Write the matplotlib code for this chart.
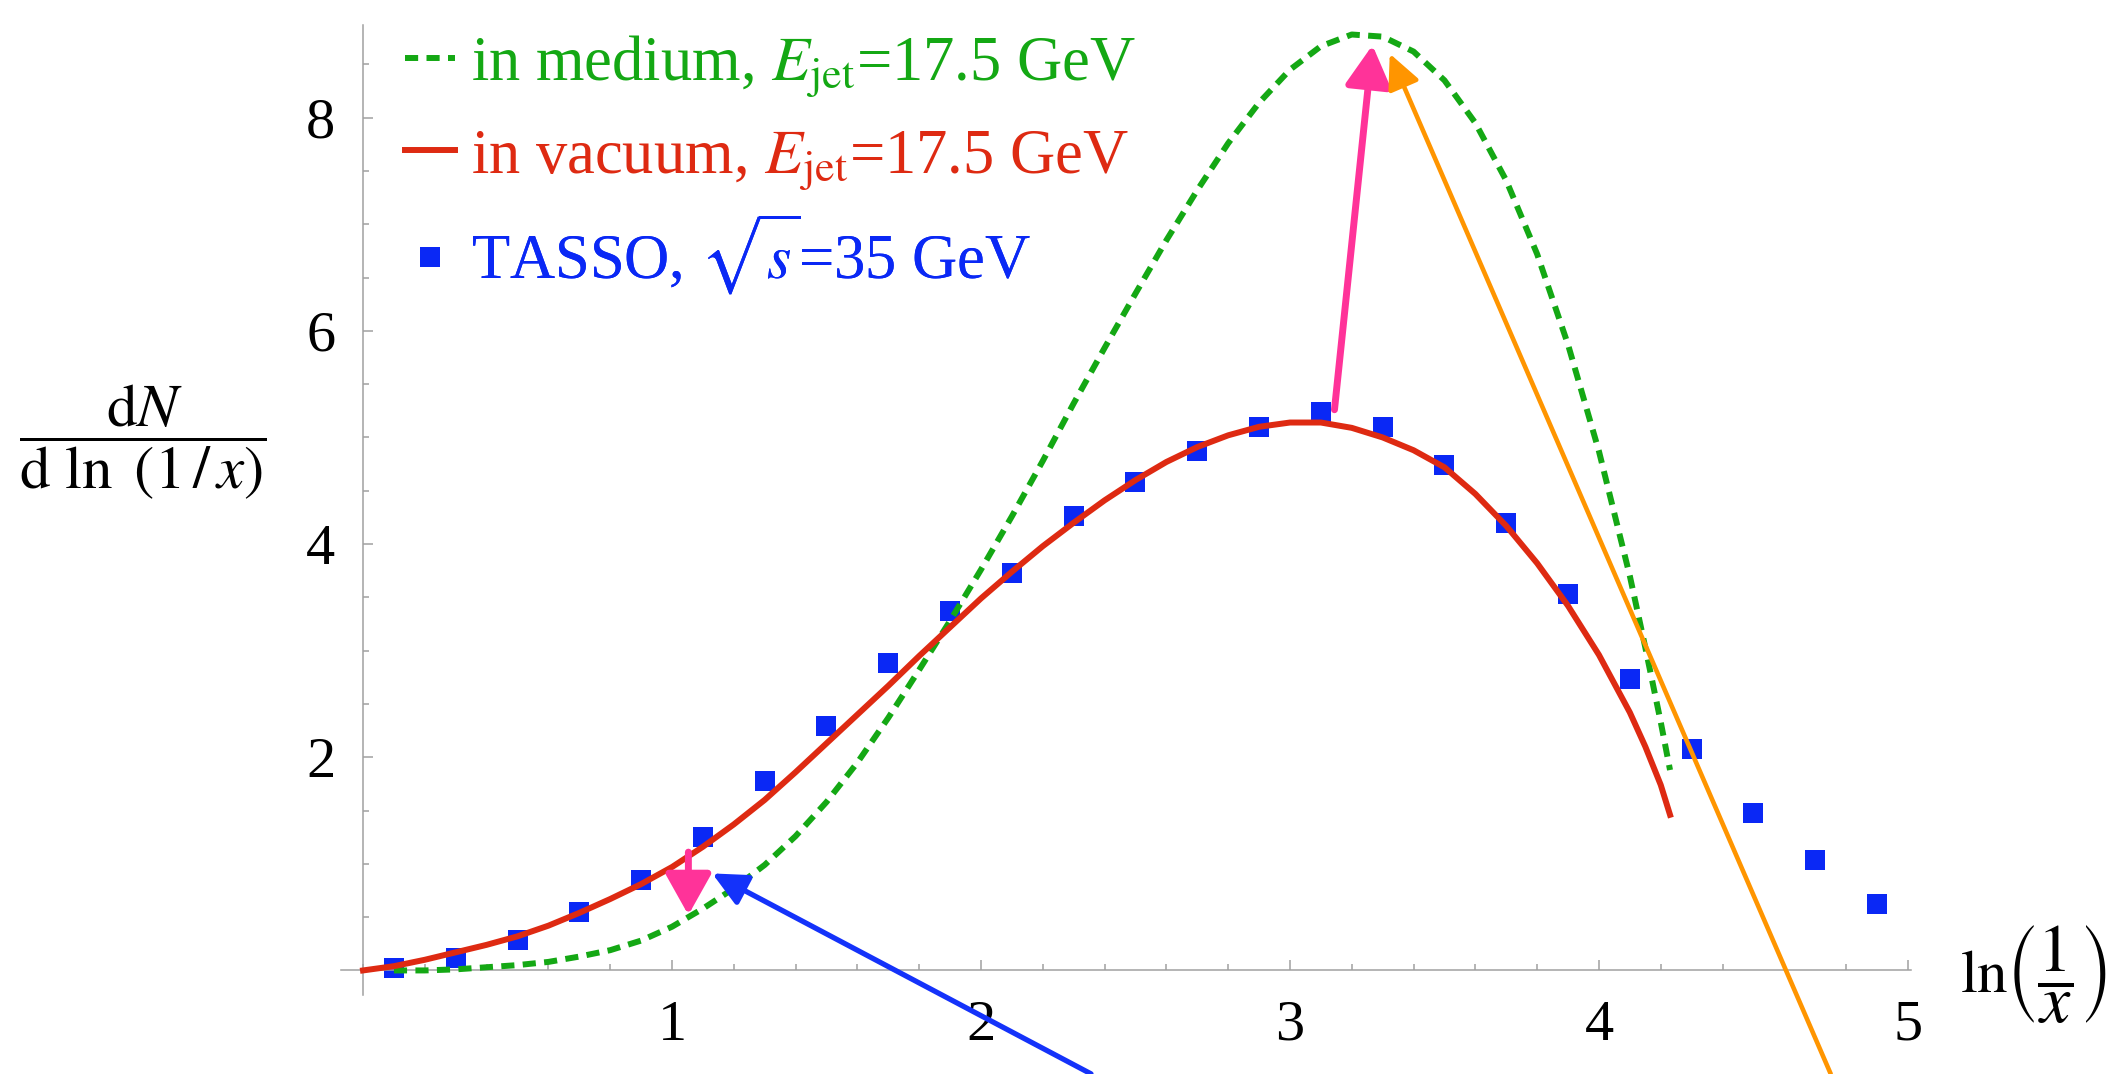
import matplotlib.pyplot as plt
from matplotlib.ticker import FixedLocator, MultipleLocator

plt.rcParams['font.family'] = 'serif'
plt.rcParams['font.serif'] = ['Liberation Serif', 'DejaVu Serif']
plt.rcParams['mathtext.fontset'] = 'stix'

# TASSO data, sqrt(s) = 35 GeV
tasso_x = [0.1, 0.3, 0.5, 0.7, 0.9, 1.1, 1.3, 1.5, 1.7, 1.9, 2.1, 2.3, 2.5,
           2.7, 2.9, 3.1, 3.3, 3.5, 3.7, 3.9, 4.1, 4.3, 4.5, 4.7, 4.9]
tasso_y = [0.02, 0.12, 0.29, 0.55, 0.85, 1.25, 1.78, 2.29, 2.88, 3.37, 3.73,
           4.26, 4.58, 4.87, 5.10, 5.24, 5.10, 4.74, 4.20, 3.53, 2.73, 2.08,
           1.48, 1.04, 0.62]

# in vacuum, E_jet = 17.5 GeV
vac_x = [0.0, 0.1, 0.2, 0.3, 0.4, 0.5, 0.6, 0.7, 0.8, 0.9, 1.0, 1.1, 1.2,
         1.3, 1.4, 1.5, 1.6, 1.7, 1.8, 1.9, 2.0, 2.1, 2.2, 2.3, 2.4, 2.5,
         2.6, 2.7, 2.8, 2.9, 3.0, 3.1, 3.2, 3.3, 3.4, 3.5, 3.6, 3.7, 3.8,
         3.9, 4.0, 4.1, 4.15, 4.2, 4.23]
vac_y = [0.0, 0.04, 0.10, 0.17, 0.24, 0.32, 0.42, 0.54, 0.67, 0.81, 0.97,
         1.16, 1.37, 1.60, 1.86, 2.13, 2.40, 2.67, 2.95, 3.22, 3.49, 3.74,
         3.98, 4.20, 4.41, 4.60, 4.77, 4.91, 5.02, 5.10, 5.14, 5.14, 5.09,
         5.00, 4.88, 4.72, 4.47, 4.17, 3.82, 3.42, 2.96, 2.42, 2.10, 1.74,
         1.46]

# in medium, E_jet = 17.5 GeV
med_x = [0.1, 0.2, 0.3, 0.4, 0.5, 0.6, 0.7, 0.8, 0.9, 1.0, 1.1, 1.2, 1.3,
         1.4, 1.5, 1.6, 1.7, 1.8, 1.9, 2.0, 2.1, 2.2, 2.3, 2.4, 2.5, 2.6,
         2.7, 2.8, 2.9, 3.0, 3.1, 3.2, 3.3, 3.4, 3.5, 3.6, 3.7, 3.8, 3.9,
         4.0, 4.1, 4.15, 4.2, 4.23]
med_y = [0.0, 0.0, 0.01, 0.03, 0.05, 0.08, 0.13, 0.19, 0.28, 0.41, 0.58,
         0.77, 0.99, 1.26, 1.58, 1.95, 2.37, 2.82, 3.28, 3.76, 4.26, 4.78,
         5.32, 5.84, 6.35, 6.85, 7.32, 7.76, 8.14, 8.45, 8.67, 8.78, 8.76,
         8.62, 8.35, 7.95, 7.41, 6.72, 5.87, 4.87, 3.70, 3.03, 2.33, 1.88]

labels = ['in medium, $E_{\\mathrm{jet}}$=17.5 GeV',
          'in vacuum, $E_{\\mathrm{jet}}$=17.5 GeV',
          'TASSO, $\\sqrt{s}$=35 GeV']

# annotation arrows: (tail, tip, colour, line width, head length, head width)
arrows = [
    ((1.053, 1.11), (1.053, 0.52), '#ff3399', 5.0, 2.5, 1.4),
    ((3.144, 5.26), (3.267, 8.68), '#ff3399', 5.0, 2.5, 1.4),
    ((2.356, -0.97), (1.13, 0.91), '#1432fa', 3.8, 2.1, 1.0),
    ((4.75, -0.97), (3.323, 8.60), '#ff9500', 3.3, 2.1, 1.0),
]

green = '#14a814'
red = '#de2a12'
blue = '#0a28f5'
axis_grey = '#a0a0a0'

fig = plt.figure(figsize=(21.1, 10.74), dpi=100)
ax = fig.add_axes([0.1618, 0.0736, 0.7439, 0.9032])

pts, = ax.plot(tasso_x, tasso_y, 's', color=blue, ms=14.5, mew=0, zorder=2)
med, = ax.plot(med_x, med_y, color=green, lw=4.3, dashes=(2.2, 1.4), zorder=3)
vac, = ax.plot(vac_x, vac_y, color=red, lw=4.3, zorder=3)

for tail, tip, col, lw, hl, hw in arrows:
    ax.annotate('', xy=tip, xytext=tail, annotation_clip=False,
                arrowprops=dict(arrowstyle=f'-|>,head_length={hl},head_width={hw}',
                                color=col, lw=lw, shrinkA=0, shrinkB=0),
                zorder=4)

ax.set_xlim(-0.07, 5.01)
ax.set_ylim(-0.23, 8.87)

for side in ['top', 'right']:
    ax.spines[side].set_visible(False)
for side in ['left', 'bottom']:
    ax.spines[side].set_position(('data', 0))
    ax.spines[side].set_color(axis_grey)
    ax.spines[side].set_linewidth(1.1)

ax.xaxis.set_major_locator(FixedLocator([1, 2, 3, 4, 5]))
ax.xaxis.set_minor_locator(MultipleLocator(0.2))
ax.yaxis.set_major_locator(FixedLocator([2, 4, 6, 8]))
ax.yaxis.set_minor_locator(MultipleLocator(0.5))
ax.tick_params(which='both', direction='in', color=axis_grey, width=1.1)
ax.tick_params(which='major', length=7)
ax.tick_params(which='minor', length=4)
ax.tick_params(axis='x', labelsize=42, pad=21)
ax.tick_params(axis='y', labelsize=42, pad=20)

# one legend per row so the rows sit evenly like the original
row_y = [66, 160, 254]
for handle, text, col, y in zip([med, vac, pts], labels, [green, red, blue], row_y):
    leg = ax.legend([handle], [text], loc='center left',
                    bbox_to_anchor=(405 / 2110, 1 - y / 1074),
                    bbox_transform=fig.transFigure, frameon=False, fontsize=45,
                    handlelength=0.8, handletextpad=0.25,
                    borderpad=0, borderaxespad=0)
    leg.get_texts()[0].set_color(col)
    ax.add_artist(leg)

fig.text(143 / 2110, 1 - 442 / 1074,
         r'$\dfrac{\mathrm{d}N}{\mathrm{d}\ \ln\ (1\,/\,x)}$',
         fontsize=44, ha='center', va='center')
fig.text(1960 / 2110, 1 - 992 / 1074, r'$\ln$',
         fontsize=44, ha='left', va='baseline')
fig.text(2006 / 2110, 1 - 975 / 1074, r'$\left(\dfrac{1}{x}\right)$',
         fontsize=49, ha='left', va='center')

fig.savefig('out.png', dpi=100)
